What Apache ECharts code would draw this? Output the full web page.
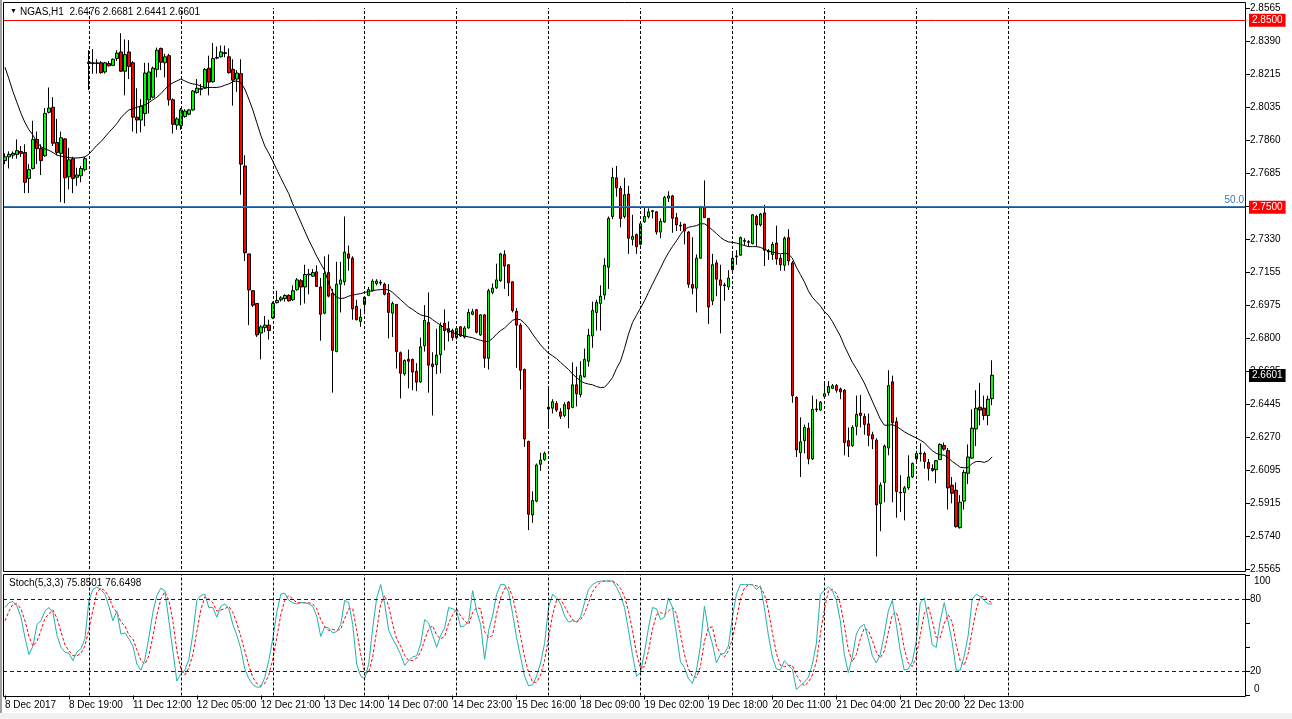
<!DOCTYPE html>
<html><head><meta charset="utf-8">
<script src="https://cdn.jsdelivr.net/npm/echarts@6/dist/echarts.min.js"></script>
<style>html,body{margin:0;padding:0;background:#fff;}#c{width:1292px;height:719px;}</style>
</head><body><div id="c"></div>
<script>
// ---------------- data ----------------
const symbolTitle = 'NGAS,H1';
const timeLabels = ['8 Dec 2017','8 Dec 19:00','11 Dec 12:00','12 Dec 05:00','12 Dec 21:00','13 Dec 14:00','14 Dec 07:00','14 Dec 23:00','15 Dec 16:00','18 Dec 09:00','19 Dec 02:00','19 Dec 18:00','20 Dec 11:00','21 Dec 04:00','21 Dec 20:00','22 Dec 13:00'];
const priceTicks = ['2.5565','2.5740','2.5915','2.6095','2.6270','2.6445','2.6625','2.6800','2.6975','2.7155','2.7330','2.7505','2.7685','2.7860','2.8035','2.8215','2.8390','2.8565'];
const priceMin = 2.5565, priceMax = 2.8565;
const separatorBars = [21,44,67,90,113,136,159,182,205,228,251];
const totalSlots = 311;

const opens = [2.7749,2.7769,2.7778,2.7782,2.7798,2.7792,2.7653,2.7707,2.7862,2.7813,2.7775,2.8007,2.8034,2.7846,2.7788,2.7865,2.7662,2.7759,2.7660,2.7668,2.7701,2.8268,2.8272,2.8268,2.8272,2.8223,2.8268,2.8258,2.8295,2.8330,2.8227,2.8330,2.8272,2.7981,2.7966,2.8001,2.8074,2.8088,2.8237,2.8349,2.8272,2.8310,2.8074,2.7939,2.7937,2.7985,2.7997,2.8020,2.8113,2.8130,2.8136,2.8243,2.8171,2.8297,2.8304,2.8326,2.8304,2.8237,2.8185,2.8214,2.7720,2.7250,2.7053,2.6985,2.6827,2.6856,2.6869,2.6908,2.6989,2.7005,2.7011,2.7028,2.7005,2.7059,2.7107,2.7073,2.7138,2.7131,2.7154,2.7073,2.6933,2.7150,2.7040,2.6728,2.7088,2.7101,2.7250,2.7227,2.6970,2.6889,2.6980,2.7028,2.7053,2.7092,2.7098,2.7088,2.7040,2.6933,2.6980,2.6721,2.6608,2.6686,2.6686,2.6622,2.6566,2.6759,2.6883,2.6661,2.6657,2.6711,2.6879,2.6850,2.6840,2.6802,2.6860,2.6806,2.6854,2.6927,2.6951,2.6817,2.6924,2.6692,2.7044,2.7069,2.7107,2.7247,2.7192,2.7101,2.6943,2.6869,2.6632,2.6247,2.5854,2.5928,2.6125,2.6150,2.6430,2.6425,2.6450,2.6405,2.6386,2.6457,2.6429,2.6550,2.6498,2.6593,2.6676,2.6811,2.6937,2.6985,2.7030,2.7179,2.7450,2.7657,2.7600,2.7450,2.7570,2.7328,2.7353,2.7301,2.7421,2.7450,2.7477,2.7475,2.7367,2.7421,2.7548,2.7560,2.7444,2.7403,2.7409,2.7367,2.7086,2.7067,2.7227,2.7498,2.7440,2.6999,2.7202,2.7111,2.7084,2.7073,2.7165,2.7235,2.7243,2.7318,2.7312,2.7305,2.7450,2.7405,2.7469,2.7266,2.7247,2.7308,2.7227,2.7189,2.7337,2.7202,2.6483,2.6187,2.6251,2.6318,2.6154,2.6417,2.6415,2.6488,2.6508,2.6531,2.6546,2.6527,2.6521,2.6251,2.6225,2.6328,2.6399,2.6380,2.6341,2.6283,2.6254,2.5916,2.6028,2.6212,2.6566,2.6353,2.5976,2.5974,2.5999,2.6057,2.6154,2.6181,2.6183,2.6135,2.6102,2.6096,2.6150,2.6225,2.6198,2.6013,2.5986,2.5786,2.5928,2.6077,2.6158,2.6314,2.6430,2.6425,2.6386,2.6476];
const highs = [2.7788,2.7798,2.7798,2.7862,2.7827,2.7836,2.7730,2.7962,2.7904,2.7836,2.8030,2.8140,2.8088,2.7972,2.7904,2.7869,2.7817,2.7769,2.7711,2.7720,2.7769,2.8339,2.8345,2.8291,2.8281,2.8277,2.8281,2.8295,2.8339,2.8430,2.8397,2.8393,2.8281,2.8136,2.8078,2.8272,2.8272,2.8252,2.8353,2.8353,2.8320,2.8320,2.8082,2.7981,2.8030,2.8024,2.8024,2.8127,2.8185,2.8159,2.8243,2.8310,2.8378,2.8359,2.8364,2.8364,2.8349,2.8291,2.8233,2.8291,2.7778,2.7250,2.7057,2.6985,2.6869,2.6918,2.6898,2.6995,2.7053,2.7024,2.7034,2.7034,2.7082,2.7121,2.7115,2.7192,2.7169,2.7169,2.7189,2.7121,2.7237,2.7247,2.7063,2.7208,2.7208,2.7450,2.7295,2.7237,2.7005,2.6956,2.7024,2.7073,2.7115,2.7115,2.7111,2.7096,2.7088,2.6995,2.6980,2.6728,2.6686,2.6738,2.6690,2.6666,2.6802,2.6976,2.7044,2.6724,2.6850,2.6883,2.6953,2.6889,2.6850,2.6860,2.6864,2.6864,2.6956,2.6956,2.6956,2.6927,2.6927,2.7063,2.7092,2.7198,2.7256,2.7270,2.7192,2.7101,2.6960,2.6879,2.6637,2.6251,2.5980,2.6129,2.6187,2.6193,2.6535,2.6473,2.6463,2.6425,2.6457,2.6463,2.6670,2.6647,2.6676,2.6744,2.6850,2.6995,2.7005,2.7082,2.7227,2.7450,2.7711,2.7720,2.7614,2.7657,2.7614,2.7459,2.7359,2.7421,2.7498,2.7494,2.7483,2.7479,2.7440,2.7560,2.7585,2.7566,2.7469,2.7421,2.7411,2.7372,2.7339,2.7247,2.7508,2.7643,2.7440,2.7250,2.7218,2.7192,2.7096,2.7163,2.7266,2.7270,2.7343,2.7334,2.7324,2.7463,2.7459,2.7469,2.7513,2.7276,2.7314,2.7401,2.7247,2.7343,2.7382,2.7212,2.6488,2.6376,2.6337,2.6347,2.6492,2.6473,2.6463,2.6560,2.6570,2.6554,2.6554,2.6535,2.6527,2.6322,2.6334,2.6492,2.6496,2.6396,2.6396,2.6299,2.6264,2.6028,2.6231,2.6628,2.6599,2.6376,2.6067,2.6009,2.6173,2.6135,2.6198,2.6237,2.6193,2.6154,2.6125,2.6148,2.6237,2.6241,2.6212,2.6057,2.6028,2.5960,2.6096,2.6231,2.6419,2.6521,2.6560,2.6492,2.6492,2.6681];
const lows = [2.7730,2.7707,2.7759,2.7759,2.7769,2.7575,2.7575,2.7701,2.7730,2.7672,2.7769,2.8001,2.7827,2.7778,2.7527,2.7521,2.7595,2.7575,2.7614,2.7633,2.7691,2.8127,2.8214,2.8214,2.8214,2.8214,2.8252,2.8256,2.8281,2.8223,2.8098,2.8185,2.7904,2.7894,2.7900,2.7933,2.8001,2.8082,2.8194,2.8233,2.8194,2.8043,2.7894,2.7914,2.7914,2.7978,2.7991,2.8016,2.8107,2.8098,2.8132,2.8098,2.8165,2.8291,2.8301,2.8301,2.8214,2.8043,2.8117,2.7566,2.7212,2.6869,2.6966,2.6806,2.6686,2.6831,2.6792,2.6902,2.6985,2.6995,2.6995,2.6995,2.6999,2.7053,2.6976,2.6985,2.7034,2.7127,2.7073,2.6786,2.6927,2.7018,2.6508,2.6724,2.6937,2.7082,2.7160,2.6898,2.6895,2.6860,2.6927,2.7024,2.7049,2.7082,2.7082,2.7028,2.6798,2.6806,2.6637,2.6477,2.6599,2.6531,2.6521,2.6516,2.6560,2.6728,2.6508,2.6386,2.6608,2.6612,2.6734,2.6782,2.6786,2.6792,2.6806,2.6798,2.6850,2.6922,2.6825,2.6811,2.6641,2.6632,2.7034,2.7063,2.7101,2.7063,2.7024,2.6937,2.6641,2.6525,2.6218,2.5773,2.5812,2.5922,2.6090,2.6144,2.6328,2.6396,2.6405,2.6367,2.6376,2.6318,2.6425,2.6434,2.6483,2.6589,2.6647,2.6748,2.6840,2.6840,2.7005,2.7063,2.7436,2.7556,2.7392,2.7440,2.7250,2.7295,2.7250,2.7295,2.7417,2.7440,2.7440,2.7353,2.7334,2.7417,2.7527,2.7363,2.7372,2.7372,2.7301,2.7069,2.7034,2.6937,2.7227,2.7444,2.6875,2.6976,2.7024,2.6825,2.6999,2.7057,2.7160,2.7192,2.7241,2.7295,2.7289,2.7301,2.7289,2.7397,2.7185,2.7218,2.7218,2.7192,2.7160,2.7160,2.7189,2.6454,2.6164,2.6057,2.6183,2.6125,2.6148,2.6405,2.6411,2.6483,2.6492,2.6527,2.6508,2.6473,2.6173,2.6164,2.6218,2.6280,2.6322,2.6283,2.6222,2.6206,2.5632,2.5767,2.5922,2.6173,2.5922,2.5839,2.5870,2.5825,2.5989,2.6051,2.6140,2.6140,2.6102,2.6038,2.6086,2.6024,2.6148,2.6198,2.5883,2.5916,2.5786,2.5781,2.5883,2.6019,2.6154,2.6222,2.6334,2.6361,2.6334,2.6441];
const closes = [2.7769,2.7782,2.7788,2.7802,2.7788,2.7633,2.7701,2.7862,2.7813,2.7749,2.8001,2.8030,2.7842,2.7792,2.7871,2.7657,2.7753,2.7653,2.7672,2.7707,2.7759,2.8275,2.8268,2.8272,2.8219,2.8272,2.8256,2.8291,2.8324,2.8227,2.8316,2.8252,2.7981,2.7966,2.8040,2.8217,2.8223,2.8243,2.8339,2.8275,2.8304,2.8074,2.7943,2.7972,2.8020,2.8014,2.8020,2.8121,2.8136,2.8134,2.8237,2.8169,2.8295,2.8301,2.8330,2.8322,2.8219,2.8179,2.8217,2.7730,2.7256,2.7057,2.6976,2.6817,2.6860,2.6869,2.6840,2.6985,2.7001,2.7015,2.7028,2.6999,2.7053,2.7111,2.7073,2.7140,2.7142,2.7150,2.7076,2.6927,2.7146,2.7024,2.6734,2.7088,2.7111,2.7260,2.7227,2.6956,2.6898,2.6912,2.7018,2.7059,2.7105,2.7105,2.7094,2.7034,2.6937,2.6985,2.6728,2.6612,2.6680,2.6676,2.6618,2.6564,2.6753,2.6895,2.6655,2.6647,2.6709,2.6866,2.6840,2.6831,2.6802,2.6850,2.6811,2.6854,2.6937,2.6941,2.6831,2.6924,2.6692,2.7053,2.7067,2.7111,2.7250,2.7185,2.7096,2.6947,2.6869,2.6628,2.6260,2.5858,2.5931,2.6121,2.6148,2.6183,2.6421,2.6459,2.6415,2.6382,2.6444,2.6421,2.6550,2.6502,2.6599,2.6686,2.6815,2.6947,2.6991,2.7024,2.7189,2.7440,2.7659,2.7604,2.7440,2.7566,2.7334,2.7343,2.7289,2.7411,2.7450,2.7475,2.7481,2.7367,2.7424,2.7552,2.7560,2.7440,2.7405,2.7399,2.7372,2.7088,2.7067,2.7227,2.7498,2.7444,2.6966,2.7192,2.7115,2.7082,2.7080,2.7121,2.7227,2.7239,2.7337,2.7322,2.7316,2.7459,2.7405,2.7463,2.7270,2.7260,2.7301,2.7223,2.7192,2.7334,2.7212,2.6492,2.6202,2.6245,2.6322,2.6154,2.6419,2.6421,2.6457,2.6502,2.6541,2.6545,2.6521,2.6512,2.6241,2.6222,2.6322,2.6392,2.6386,2.6338,2.6280,2.6260,2.5908,2.6013,2.6222,2.6546,2.6347,2.5980,2.5972,2.5999,2.6057,2.6129,2.6183,2.6185,2.6140,2.6102,2.6092,2.6144,2.6231,2.6206,2.5999,2.5970,2.5792,2.5922,2.6082,2.6164,2.6318,2.6425,2.6415,2.6386,2.6473,2.6601];
const maValues = [2.8248,2.8185,2.8117,2.8059,2.8001,2.7952,2.7914,2.7885,2.7846,2.7823,2.7811,2.7804,2.7792,2.7778,2.7773,2.7769,2.7765,2.7763,2.7763,2.7765,2.7769,2.7784,2.7807,2.7831,2.7850,2.7875,2.7900,2.7923,2.7947,2.7978,2.8001,2.8020,2.8026,2.8034,2.8040,2.8047,2.8059,2.8074,2.8088,2.8107,2.8130,2.8152,2.8165,2.8175,2.8185,2.8175,2.8165,2.8159,2.8156,2.8146,2.8140,2.8140,2.8140,2.8140,2.8144,2.8152,2.8159,2.8171,2.8175,2.8165,2.8132,2.8078,2.8020,2.7952,2.7885,2.7827,2.7788,2.7746,2.7701,2.7657,2.7614,2.7572,2.7517,2.7469,2.7421,2.7372,2.7324,2.7281,2.7237,2.7198,2.7160,2.7092,2.7044,2.7018,2.7011,2.7015,2.7024,2.7030,2.7034,2.7038,2.7044,2.7049,2.7053,2.7057,2.7059,2.7061,2.7057,2.7044,2.7024,2.7005,2.6985,2.6966,2.6953,2.6937,2.6924,2.6918,2.6914,2.6898,2.6883,2.6869,2.6854,2.6840,2.6831,2.6821,2.6817,2.6811,2.6806,2.6802,2.6794,2.6788,2.6782,2.6782,2.6798,2.6821,2.6840,2.6854,2.6875,2.6895,2.6902,2.6898,2.6879,2.6854,2.6821,2.6792,2.6763,2.6740,2.6719,2.6705,2.6690,2.6670,2.6651,2.6632,2.6608,2.6589,2.6570,2.6560,2.6554,2.6550,2.6541,2.6535,2.6537,2.6560,2.6589,2.6637,2.6676,2.6744,2.6821,2.6883,2.6922,2.6960,2.6999,2.7044,2.7088,2.7131,2.7173,2.7218,2.7256,2.7289,2.7320,2.7353,2.7382,2.7392,2.7397,2.7401,2.7411,2.7411,2.7397,2.7378,2.7359,2.7339,2.7324,2.7314,2.7312,2.7308,2.7301,2.7295,2.7289,2.7289,2.7289,2.7285,2.7276,2.7266,2.7260,2.7256,2.7250,2.7254,2.7250,2.7227,2.7179,2.7140,2.7101,2.7053,2.7018,2.6995,2.6972,2.6941,2.6922,2.6889,2.6850,2.6811,2.6759,2.6715,2.6670,2.6637,2.6599,2.6560,2.6512,2.6463,2.6415,2.6367,2.6334,2.6334,2.6337,2.6328,2.6314,2.6299,2.6287,2.6276,2.6266,2.6254,2.6241,2.6218,2.6198,2.6183,2.6177,2.6173,2.6160,2.6140,2.6125,2.6109,2.6106,2.6109,2.6129,2.6140,2.6140,2.6135,2.6144,2.6164];
const stochK = [73,77,78,74,65,48,34,41,59,62,70,73,69,50,40,36,35,29,36,39,47,79,88,90,88,84,74,62,70,51,52,47,41,26,21,30,48,69,83,89,87,62,37,12,18,21,30,51,79,83,84,73,73,65,74,76,72,59,50,39,22,14,9,7,7,15,29,47,69,84,85,79,77,76,77,77,76,74,66,49,57,56,52,53,59,79,77,59,26,16,14,26,56,81,92,76,54,47,41,34,25,29,32,33,43,63,60,50,40,50,56,73,72,70,57,58,62,87,70,59,30,54,66,84,92,92,86,68,48,32,16,8,9,16,27,43,73,84,81,76,66,61,62,61,65,77,88,92,94,95,95,95,95,90,83,73,54,34,16,19,36,56,73,72,63,65,81,73,51,28,23,14,10,21,41,74,54,43,27,34,35,41,65,84,92,92,92,92,88,91,73,50,32,22,21,29,25,22,5,8,11,15,26,43,84,87,90,87,79,62,34,19,32,51,57,59,47,33,27,34,51,70,79,59,37,21,22,28,45,77,81,63,42,40,62,77,61,44,21,21,33,50,80,84,82,79,76,75.8501];
const stochD = [62,70,76,76,72,62,49,41,45,54,64,68,71,64,53,42,37,33,33,35,41,55,71,86,89,87,82,73,69,61,58,50,47,38,29,26,33,49,67,80,86,79,62,37,22,17,23,34,53,71,82,80,77,70,71,72,74,69,60,49,37,25,15,10,8,10,17,30,48,67,79,83,80,77,77,77,77,76,72,63,57,54,55,54,55,64,72,72,54,34,19,19,32,54,76,83,74,59,47,41,33,29,29,31,36,46,55,58,50,47,49,60,67,72,66,62,59,69,73,72,53,48,50,68,81,89,90,82,67,49,32,19,11,11,17,29,48,67,79,80,74,68,63,61,63,68,77,86,91,94,95,95,95,93,89,82,70,54,35,23,24,37,55,67,69,67,70,73,68,51,34,22,16,15,24,45,56,57,41,35,32,37,47,63,80,89,92,92,91,90,84,71,52,35,25,24,25,25,17,12,8,11,17,28,51,71,87,88,85,76,58,38,28,34,47,56,54,46,36,31,37,52,67,69,58,39,27,24,32,50,68,74,62,48,48,60,67,61,42,29,25,35,54,71,82,82,79,76.6498];
const stochLevels = [20, 80];
const redLevels = [2.8500, 2.7500];
const fiboLevel = 2.7507;

// ---------------- chart ----------------
const FONT = '"Liberation Sans", Arial, sans-serif';
const chart = echarts.init(document.getElementById('c'), null, {renderer: 'canvas', width: 1292, height: 719});
const cats = Array.from({length: totalSlots}, (_, i) => String(i));
const candleData = opens.map((o, i) => [o, closes[i], lows[i], highs[i]]);
const lastClose = closes[closes.length - 1];
const isLabelIdx = (i) => i % 16 === 0 && i / 16 < timeLabels.length;
const sepStyle = {color: '#000000', width: 1, type: [3, 2], opacity: 1};
const sepLines = separatorBars.map(b => ({xAxis: String(b)}));
const L = 3, R = 46;

const option = {
  animation: false,
  backgroundColor: '#ffffff',
  textStyle: {fontFamily: FONT},
  grid: [
    {left: L, right: R, top: 8, height: 561},
    {left: L, right: R, top: 575, height: 120.5}
  ],
  xAxis: [
    {type: 'category', gridIndex: 0, data: cats, boundaryGap: true, show: false},
    {type: 'category', gridIndex: 1, data: cats, boundaryGap: true, offset: 2,
     axisLine: {show: false},
     axisTick: {show: true, alignWithLabel: true, length: 4, interval: (i) => isLabelIdx(i), lineStyle: {color: '#000'}},
     axisLabel: {interval: (i) => isLabelIdx(i), formatter: (v, i) => timeLabels[i / 16] || '', align: 'left', margin: 3, color: '#000', fontSize: 10, fontFamily: FONT},
     splitLine: {show: false}}
  ],
  yAxis: [
    {type: 'value', gridIndex: 0, min: priceMin, max: priceMax, show: false, splitLine: {show: false}},
    {type: 'value', gridIndex: 0, min: 0, max: priceTicks.length - 1, interval: 1, position: 'right',
     axisLine: {show: false},
     axisTick: {show: true, length: 4, lineStyle: {color: '#000'}},
     axisLabel: {formatter: (v) => priceTicks[Math.round(v)], margin: 4, color: '#000', fontSize: 10, fontFamily: FONT},
     splitLine: {show: false}},
    {type: 'value', gridIndex: 1, min: 0, max: 100, interval: 20, position: 'right',
     axisLine: {show: false},
     axisTick: {show: true, length: 4, interval: 0, lineStyle: {color: '#000'}},
     axisLabel: {formatter: (v) => (stochLevels.indexOf(v) >= 0 ? String(v) : ''), margin: 4, color: '#000', fontSize: 10, fontFamily: FONT},
     splitLine: {show: false}}
  ],
  series: [
    {
      type: 'candlestick', xAxisIndex: 0, yAxisIndex: 0, data: candleData, barWidth: 3, z: 3,
      itemStyle: {color: '#00FF00', color0: '#FF0000', borderColor: '#000000', borderColor0: '#000000', borderWidth: 1},
      markLine: {
        silent: true, symbol: ['none', 'none'], animation: false, label: {show: false},
        lineStyle: sepStyle,
        data: sepLines
      }
    },
    {type: 'line', xAxisIndex: 0, yAxisIndex: 0, data: maValues, symbol: 'none', silent: true, z: 4,
     lineStyle: {color: '#000', width: 1},
     markLine: {
       silent: true, symbol: ['none', 'none'], animation: false,
       data: [
         {yAxis: fiboLevel, lineStyle: {color: '#3C78B4', width: 2, type: 'solid'},
          label: {show: true, position: 'insideEndTop', formatter: '50.0', color: '#3C78B4', fontSize: 10, distance: 2}},
         {yAxis: redLevels[0], lineStyle: {color: '#FF0000', width: 1, type: 'solid'},
          label: {show: true, position: 'end', formatter: redLevels[0].toFixed(4), color: '#fff', backgroundColor: '#FF0000', padding: [2, 3, 1, 3], fontSize: 10, distance: 3}},
         {yAxis: redLevels[1], lineStyle: {color: '#FF0000', width: 1, type: 'solid'},
          label: {show: true, position: 'end', formatter: redLevels[1].toFixed(4), color: '#fff', backgroundColor: '#FF0000', padding: [2, 3, 1, 3], fontSize: 10, distance: 3}},
         {yAxis: lastClose, lineStyle: {color: 'rgba(0,0,0,0)', width: 0},
          label: {show: true, position: 'end', formatter: lastClose.toFixed(4), color: '#fff', backgroundColor: '#000', padding: [2, 3, 1, 3], fontSize: 10, distance: 3}}
       ]
     }},
    {type: 'line', xAxisIndex: 1, yAxisIndex: 2, data: stochK, symbol: 'none', silent: true, z: 4,
     lineStyle: {color: '#20B2AA', width: 1},
     markLine: {silent: true, symbol: ['none', 'none'], label: {show: false}, animation: false,
       lineStyle: {color: '#0000FF', width: 1, type: [4, 3], opacity: 1},
       data: stochLevels.map(v => ({yAxis: v}))}},
    {type: 'line', xAxisIndex: 1, yAxisIndex: 2, data: stochD, symbol: 'none', silent: true, z: 3,
     lineStyle: {color: '#FF0000', width: 1, type: [3, 2]},
     markLine: {silent: true, symbol: ['none', 'none'], label: {show: false}, animation: false,
       lineStyle: sepStyle, data: sepLines}}
  ],
  graphic: [
    {type: 'rect', silent: true, shape: {x: 3.5, y: 2.5, width: 1242, height: 569}, style: {fill: 'none', stroke: '#000', lineWidth: 1}, z: 10},
    {type: 'rect', silent: true, shape: {x: 3.5, y: 574.5, width: 1242, height: 122}, style: {fill: 'none', stroke: '#000', lineWidth: 1}, z: 10},
    {type: 'rect', silent: true, shape: {x: 0, y: 0, width: 2, height: 719}, style: {fill: '#A0A0A0'}, z: 10},
    {type: 'rect', silent: true, shape: {x: 0, y: 713, width: 1292, height: 6}, style: {fill: '#F0F0F0'}, z: 10},
    {type: 'text', silent: true, left: 10, top: 8, style: {text: '\u25BC', fill: '#000', font: '7px ' + FONT}, z: 11},
    {type: 'text', silent: true, left: 20, top: 7, style: {text: symbolTitle + '  ' + [opens, highs, lows, closes].map(a => a[a.length - 1].toFixed(4)).join(' '), fill: '#000', font: '10px ' + FONT}, z: 11},
    {type: 'text', silent: true, left: 9, top: 578, style: {text: 'Stoch(5,3,3) ' + stochK[stochK.length - 1].toFixed(4) + ' ' + stochD[stochD.length - 1].toFixed(4), fill: '#000', font: '10px ' + FONT}, z: 11},
    {type: 'text', silent: true, left: 1254, top: 576, style: {text: '100', fill: '#000', font: '10px ' + FONT}, z: 11},
    {type: 'text', silent: true, left: 1254, top: 684, style: {text: '0', fill: '#000', font: '10px ' + FONT}, z: 11}
  ]
};
chart.setOption(option);
</script>
</body></html>
